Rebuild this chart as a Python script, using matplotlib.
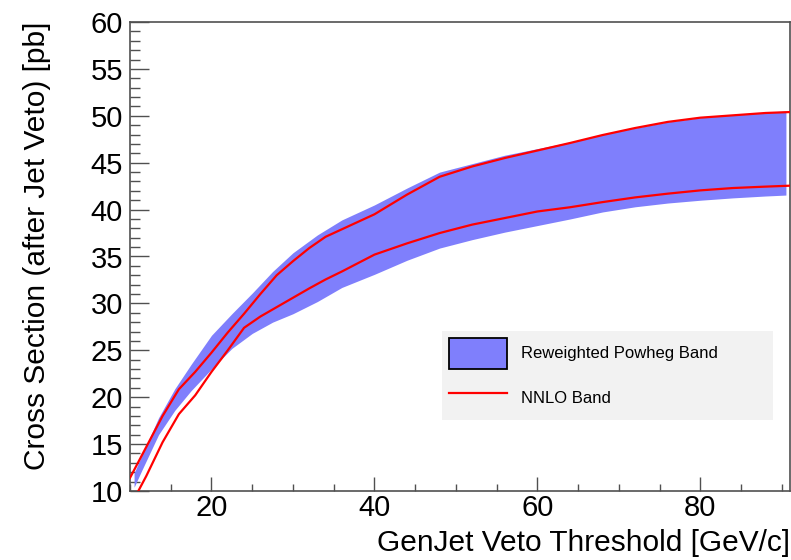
import numpy as np
import matplotlib
matplotlib.use("Agg")
import matplotlib.pyplot as plt
from matplotlib.patches import Patch
from matplotlib.lines import Line2D
from matplotlib.ticker import MultipleLocator

plt.rcParams['font.family'] = ['Liberation Sans', 'DejaVu Sans']

# Reweighted Powheg band (lower / upper edge)
band_x = [10.5, 11.5, 13.5, 15.5, 17.5, 20, 22.5, 25, 27.5, 30, 33, 36, 40, 44,
          48, 52, 56, 60, 64, 68, 72, 76, 80, 84, 88, 90.5]
band_lo = [10.4, 12.3, 16.0, 18.6, 20.7, 23.0, 25.2, 26.8, 28.0, 28.9, 30.2, 31.7,
           33.1, 34.6, 35.9, 36.8, 37.6, 38.3, 39.0, 39.75, 40.3, 40.7, 41.0, 41.25,
           41.45, 41.55]
band_hi = [11.9, 13.9, 17.8, 20.9, 23.5, 26.6, 28.9, 31.1, 33.4, 35.4, 37.3, 38.9,
           40.5, 42.3, 44.0, 44.9, 45.8, 46.5, 47.2, 48.0, 48.7, 49.35, 49.8, 50.1,
           50.4, 50.5]

# NNLO band edges
nnlo_hi_x = [10, 12, 14, 16, 18, 20, 22, 24, 26, 28, 30, 32, 34, 36, 40, 44, 48,
             52, 56, 60, 64, 68, 72, 76, 80, 84, 88, 91]
nnlo_hi = [11.4, 14.7, 18.0, 20.85, 22.7, 24.75, 26.9, 28.9, 31.0, 33.0, 34.5, 35.9,
           37.1, 37.9, 39.5, 41.6, 43.5, 44.6, 45.5, 46.3, 47.1, 47.95, 48.7, 49.35,
           49.8, 50.05, 50.3, 50.4]
nnlo_lo_x = [10.9, 12, 14, 16, 18, 20, 22, 24, 26, 28, 30, 32, 34, 36, 40, 44, 48,
             52, 56, 60, 64, 68, 72, 76, 80, 84, 88, 91]
nnlo_lo = [9.8, 11.6, 15.2, 18.2, 20.2, 22.7, 25.0, 27.4, 28.6, 29.6, 30.6, 31.6,
           32.55, 33.4, 35.2, 36.4, 37.5, 38.4, 39.1, 39.8, 40.25, 40.8, 41.3, 41.7,
           42.05, 42.3, 42.45, 42.55]

band_color = '#7f7ffc'
axis_color = '#505050'

fig = plt.figure(figsize=(7.91, 5.60), dpi=100)
ax = fig.add_axes([130 / 791, 1 - 491 / 560, 660 / 791, 469 / 560])

ax.fill_between(band_x, band_lo, band_hi, color=band_color, lw=0, zorder=2)
ax.plot(nnlo_hi_x, nnlo_hi, color='red', lw=1.6, zorder=3)
ax.plot(nnlo_lo_x, nnlo_lo, color='red', lw=1.6, zorder=3)

ax.set_xlim(10, 91)
ax.set_ylim(10, 60)
ax.xaxis.set_major_locator(MultipleLocator(20))
ax.xaxis.set_minor_locator(MultipleLocator(5))
ax.yaxis.set_major_locator(MultipleLocator(5))
ax.yaxis.set_minor_locator(MultipleLocator(1))

ax.tick_params(axis='both', which='both', direction='in', colors=axis_color,
               labelcolor='black', labelsize=21, top=False, right=False)
ax.tick_params(axis='x', which='major', length=10, width=1, pad=2)
ax.tick_params(axis='x', which='minor', length=5, width=1)
ax.tick_params(axis='y', which='major', length=14, width=1, pad=5)
ax.tick_params(axis='y', which='minor', length=7, width=1)
for s in ax.spines.values():
    s.set_color(axis_color)
    s.set_linewidth(1.2)

ax.set_xlabel('GenJet Veto Threshold [GeV/c]', fontsize=21.5, loc='right')
ax.set_ylabel('Cross Section (after Jet Veto) [pb]', fontsize=21.5, loc='top')
ax.xaxis.set_label_coords(1.0, -0.080)
ax.yaxis.set_label_coords(-0.12, 1.0)

handles = [Patch(facecolor=band_color, edgecolor='black', linewidth=1.3),
           Line2D([0], [0], color='red', lw=1.6)]
leg = ax.legend(handles, ['Reweighted Powheg Band', 'NNLO Band'],
                loc='upper left', bbox_to_anchor=(0.4727, 0.341, 0.5013, 0.0),
                mode='expand', fontsize=12, frameon=True, fancybox=False,
                facecolor='#f2f2f2', edgecolor='none', framealpha=1,
                handlelength=3.5, handleheight=2.48, labelspacing=0.84,
                handletextpad=0.85, borderpad=0.4, borderaxespad=0)

fig.savefig('out.png', dpi=100)
